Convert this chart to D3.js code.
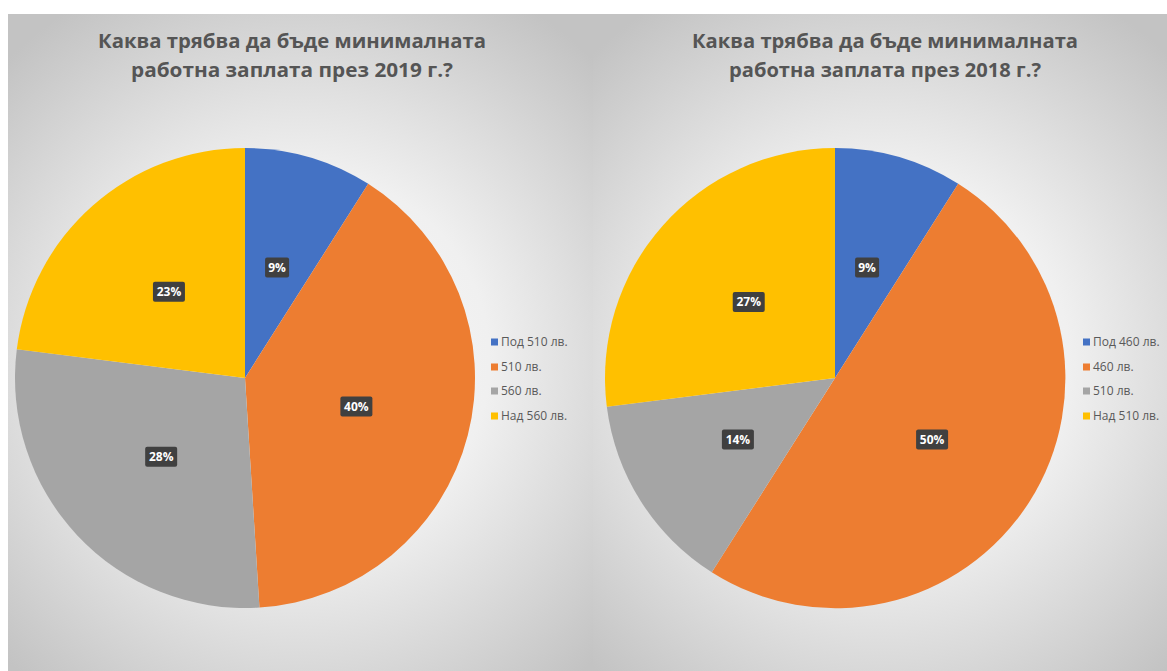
<!DOCTYPE html>
<html><head><meta charset="utf-8">
<script src="https://cdn.jsdelivr.net/npm/d3@7"></script>
<style>html,body{margin:0;padding:0;background:#fff;overflow:hidden}svg{display:block}</style>
</head><body>
<svg id="c" width="1167" height="671"></svg>
<script>
const titles2019 = ["Каква трябва да бъде минималната", "работна заплата през 2019 г.?"];
const categories2019 = ["Под 510 лв.", "510 лв.", "560 лв.", "Над 560 лв."];
const values2019 = [9, 40, 28, 23];

const titles2018 = ["Каква трябва да бъде минималната", "работна заплата през 2018 г.?"];
const categories2018 = ["Под 460 лв.", "460 лв.", "510 лв.", "Над 510 лв."];
const values2018 = [9, 50, 14, 27];

const colors = ["#4472C4", "#ED7D31", "#A5A5A5", "#FFC000"];

const svg = d3.select("#c");
const defs = svg.append("defs");

const panels = [
  {x0: 8, x1: 593, cx: 245, tx: 292, lx: 491, titles: titles2019, cats: categories2019, vals: values2019, l1: 388, l2: 322},
  {x0: 593, x1: 1167, cx: 835, tx: 885, lx: 1083, titles: titles2018, cats: categories2018, vals: values2018, l1: 386, l2: 312}
];
const cy = 378, R = 230;

panels.forEach((p, i) => {
  const g = defs.append("radialGradient").attr("id", "bg" + i)
    .attr("gradientUnits", "userSpaceOnUse")
    .attr("cx", (p.x0 + p.x1) / 2).attr("cy", 360).attr("r", 420);
  g.append("stop").attr("offset", "0%").attr("stop-color", "#f9f9f9");
  g.append("stop").attr("offset", "45%").attr("stop-color", "#f0f0f0");
  g.append("stop").attr("offset", "100%").attr("stop-color", "#c3c3c3");

  svg.append("rect").attr("x", p.x0).attr("y", 14).attr("width", p.x1 - p.x0).attr("height", 671 - 14)
    .attr("fill", `url(#bg${i})`);

  const root = svg.append("g");

  // title
  p.titles.forEach((t, k) => {
    root.append("text").attr("x", p.tx).attr("y", 48 + k * 29)
      .attr("text-anchor", "middle")
      .attr("font-family", "'Open Sans', 'Noto Sans', sans-serif")
      .attr("font-weight", "bold").attr("font-size", 20)
      .attr("fill", "#555555")
      .attr("textLength", k === 0 ? p.l1 : p.l2)
      .attr("lengthAdjust", "spacingAndGlyphs")
      .text(t);
  });

  const pie = d3.pie().sort(null).value(d => d)(p.vals);
  const arc = d3.arc().innerRadius(0).outerRadius(R);
  const labelArc = d3.arc().innerRadius(R * 0.5).outerRadius(R * 0.5);
  const pg = root.append("g").attr("transform", `translate(${p.cx},${cy})`);
  pg.selectAll("path").data(pie).join("path")
    .attr("d", arc).attr("fill", (d, j) => colors[j]);

  const totals = d3.sum(p.vals);
  const lab = pg.selectAll("g.lab").data(pie).join("g").attr("class", "lab")
    .attr("transform", d => `translate(${labelArc.centroid(d)})`);
  lab.each(function(d) {
    const gg = d3.select(this);
    const txt = Math.round(d.value / totals * 100) + "%";
    const w = txt.length * 8 + 8;
    gg.append("rect").attr("x", -w / 2).attr("y", -10).attr("width", w).attr("height", 20)
      .attr("rx", 2).attr("fill", "#404040");
    gg.append("text").attr("text-anchor", "middle").attr("dy", "0.36em")
      .attr("font-family", "'Open Sans', 'Noto Sans', sans-serif")
      .attr("font-weight", "bold").attr("font-size", 12).attr("fill", "#ffffff")
      .text(txt);
  });

  // legend
  const ys = [342, 367, 391, 416];
  p.cats.forEach((c, j) => {
    root.append("rect").attr("x", p.lx).attr("y", ys[j] - 3.5).attr("width", 7).attr("height", 7)
      .attr("fill", colors[j]);
    root.append("text").attr("x", p.lx + 10).attr("y", ys[j]).attr("dy", "0.35em")
      .attr("font-family", "'Open Sans', 'Noto Sans', sans-serif")
      .attr("font-size", 12).attr("fill", "#595959")
      .text(c);
  });
});
</script>
</body></html>
